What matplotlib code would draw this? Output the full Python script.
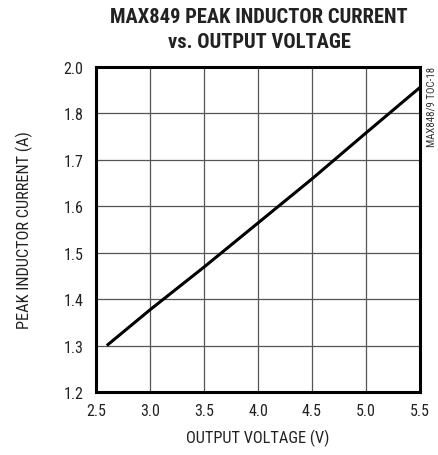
import matplotlib
matplotlib.use("Agg")
import matplotlib.pyplot as plt

# curve
vout = [2.6, 3.0, 3.5, 4.0, 4.5, 5.0, 5.5]
ipeak = [1.300, 1.377, 1.469, 1.564, 1.659, 1.758, 1.856]

xticks = [2.5, 3.0, 3.5, 4.0, 4.5, 5.0, 5.5]
yticks = [1.2, 1.3, 1.4, 1.5, 1.6, 1.7, 1.8, 1.9]
# the original sheet labels the top line "2.0" (no 1.9 shown)
ylabels = ["1.2", "1.3", "1.4", "1.5", "1.6", "1.7", "1.8", "2.0"]

plt.rcParams['font.family'] = ['Roboto Condensed', 'DejaVu Sans']

fig = plt.figure(figsize=(4.39, 4.56), dpi=100)
ax = fig.add_axes([0.2187, 0.1382, 0.7380, 0.7127])

ax.plot(vout, ipeak, color='black', linewidth=2.2, solid_capstyle='butt')

ax.set_xlim(2.5, 5.5)
ax.set_ylim(1.2, 1.9)
ax.set_xticks(xticks)
ax.set_xticklabels(["%.1f" % v for v in xticks])
ax.set_yticks(yticks)
ax.set_yticklabels(ylabels)
ax.tick_params(length=0, labelsize=11.5, colors='#222222')
ax.tick_params(axis='x', pad=8)
ax.tick_params(axis='y', pad=9)
ax.grid(True, color='#555555', linewidth=0.9)
ax.set_axisbelow(True)
for s in ax.spines.values():
    s.set_linewidth(2.2)
    s.set_color('black')

ax.set_xlabel("OUTPUT VOLTAGE (V)", fontsize=11.8, labelpad=8, color='#222222')
ax.set_ylabel("PEAK INDUCTOR CURRENT (A)", fontsize=11.8, labelpad=22, color='#222222')

fig.text(0.59, 0.982, "MAX849 PEAK INDUCTOR CURRENT\nvs. OUTPUT VOLTAGE",
         ha='center', va='top', fontsize=14.8, fontweight='bold',
         linespacing=1.4, color='#222222')
fig.text(0.982, 0.853, "MAX848/9 TOC-18", rotation=90, ha='center', va='top',
         fontsize=7.8, color='#333333')

fig.savefig("out.png", dpi=100)
